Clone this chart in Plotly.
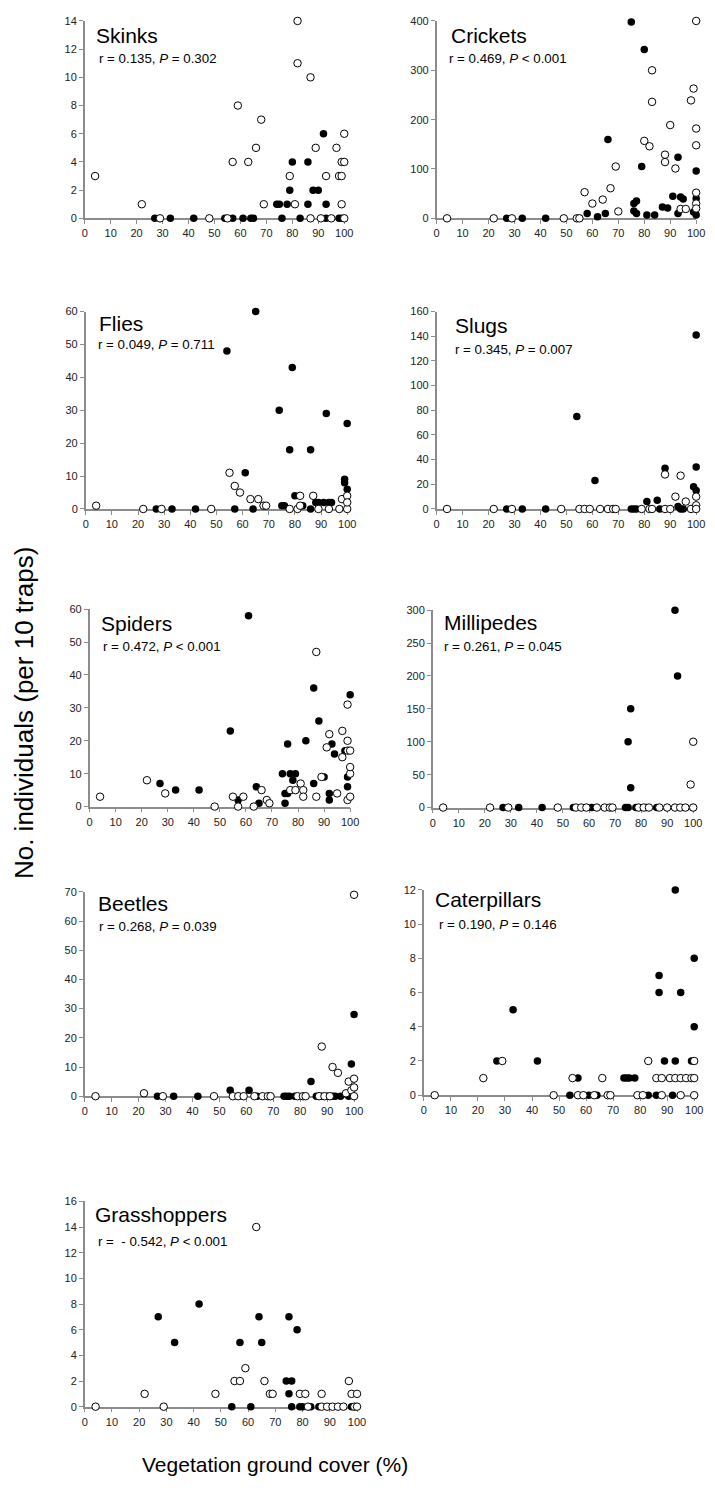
import plotly.graph_objects as go

OFF = 8  # browser body margin
W, H = 715 - OFF, 1497 - OFF
FONT = "Liberation Sans, Arial, sans-serif"

# ---------------- data ----------------
panel_names = ["Skinks", "Crickets", "Flies", "Slugs", "Spiders", "Millipedes",
               "Beetles", "Caterpillars", "Grasshoppers"]
panel_stats = [("0.135", "=", "0.302"), ("0.469", "<", "0.001"), ("0.049", "=", "0.711"),
               ("0.345", "=", "0.007"), ("0.472", "<", "0.001"), ("0.261", "=", "0.045"),
               ("0.268", "=", "0.039"), ("0.190", "=", "0.146"), ("\u00a0- 0.542", "<", "0.001")]
panel_ymax = [14, 400, 60, 160, 60, 300, 70, 12, 16]
panel_dtick = [2, 100, 10, 20, 10, 50, 10, 2, 2]
x_ticks = [0, 10, 20, 30, 40, 50, 60, 70, 80, 90, 100]

skinks_filled_x = [27, 33, 42, 54, 57, 61, 64, 65, 74, 75, 76, 78, 79, 80, 83, 86, 86, 88, 90, 92, 93, 93, 98, 99]
skinks_filled_y = [0, 0, 0, 0, 0, 0, 0, 0, 1, 1, 0, 1, 2, 4, 0, 4, 1, 2, 2, 6, 1, 0, 0, 0]
skinks_open_x = [4, 22, 29, 48, 55, 57, 59, 63, 66, 68, 69, 79, 81, 82, 82, 87, 87, 89, 91, 93, 95, 97, 98, 99, 99, 99, 100, 100, 100]
skinks_open_y = [3, 1, 0, 0, 0, 4, 8, 4, 5, 7, 1, 3, 1, 14, 11, 10, 0, 5, 0, 3, 0, 5, 3, 3, 1, 4, 4, 6, 0]

crickets_filled_x = [27, 33, 42, 55, 58, 62, 65, 66, 75, 76, 77, 76, 77, 79, 80, 81, 84, 87, 89, 91, 93, 93, 94, 95, 99, 100, 100, 100]
crickets_filled_y = [0, 0, 0, 0, 10, 3, 10, 160, 398, 30, 35, 15, 10, 105, 342, 7, 7, 23, 21, 45, 10, 124, 43, 39, 13, 7, 40, 96]
crickets_open_x = [4, 22, 29, 49, 54, 55, 57, 60, 64, 67, 69, 70, 80, 82, 83, 83, 88, 88, 90, 92, 94, 96, 98, 99, 100, 100, 100, 100, 100, 100]
crickets_open_y = [0, 0, 0, 0, 0, 0, 53, 30, 38, 61, 105, 14, 157, 146, 300, 236, 129, 114, 189, 101, 19, 19, 239, 263, 182, 400, 52, 148, 30, 20]

flies_filled_x = [27, 33, 42, 54, 57, 61, 64, 65, 74, 75, 76, 78, 79, 80, 83, 86, 86, 88, 89, 91, 92, 93, 94, 99, 99, 100, 100, 99]
flies_filled_y = [0, 0, 0, 48, 0, 11, 0, 60, 30, 1, 1, 18, 43, 4, 1, 18, 0, 2, 2, 2, 29, 2, 2, 9, 8, 26, 6, 3]
flies_open_x = [4, 22, 29, 48, 55, 57, 59, 63, 66, 68, 69, 78, 81, 82, 82, 87, 89, 93, 97, 98, 100, 100, 100]
flies_open_y = [1, 0, 0, 0, 11, 7, 5, 3, 3, 1, 1, 0, 0, 4, 1, 4, 0, 0, 0, 3, 4, 0, 2]

slugs_filled_x = [27, 33, 42, 54, 61, 75, 76, 77, 81, 85, 88, 86, 93, 94, 95, 99, 100, 100, 100]
slugs_filled_y = [0, 0, 0, 75, 23, 0, 0, 0, 6, 7, 33, 0, 2, 0, 0, 18, 34, 15, 141]
slugs_open_x = [4, 22, 29, 48, 55, 57, 59, 63, 66, 68, 69, 79, 82, 83, 88, 88, 90, 92, 94, 96, 98, 100, 100, 100]
slugs_open_y = [0, 0, 0, 0, 0, 0, 0, 0, 0, 0, 0, 0, 0, 0, 28, 0, 0, 10, 27, 6, 0, 10, 3, 0]

spiders_filled_x = [27, 33, 42, 54, 57, 61, 64, 65, 74, 75, 75, 76, 76, 77, 78, 79, 83, 86, 86, 88, 90, 92, 92, 93, 94, 98, 99, 99, 100]
spiders_filled_y = [7, 5, 5, 23, 2, 58, 6, 1, 10, 1, 4, 4, 19, 10, 8, 10, 20, 36, 7, 26, 9, 2, 4, 19, 16, 17, 9, 6, 34]
spiders_open_x = [4, 22, 29, 48, 55, 57, 59, 63, 66, 68, 69, 77, 79, 81, 82, 82, 87, 87, 89, 91, 92, 95, 97, 97, 99, 99, 99, 99, 100, 100, 100, 100]
spiders_open_y = [3, 8, 4, 0, 3, 0, 3, 0, 5, 2, 1, 5, 5, 7, 5, 3, 3, 47, 9, 18, 22, 4, 15, 23, 2, 20, 31, 17, 3, 10, 12, 17]

millipedes_filled_x = [27, 33, 42, 54, 61, 74, 75, 75, 76, 76, 78, 82, 86, 93, 94, 100]
millipedes_filled_y = [0, 0, 0, 0, 0, 0, 0, 100, 150, 30, 0, 0, 0, 300, 200, 0]
millipedes_open_x = [4, 22, 29, 48, 55, 57, 59, 63, 66, 68, 69, 79, 81, 83, 87, 90, 93, 95, 97, 99, 100, 100]
millipedes_open_y = [0, 0, 0, 0, 0, 0, 0, 0, 0, 0, 0, 0, 0, 0, 0, 0, 0, 0, 0, 35, 100, 0]

beetles_filled_x = [27, 33, 42, 54, 57, 61, 64, 74, 75, 76, 78, 84, 86, 88, 90, 92, 93, 95, 98, 99, 100, 100]
beetles_filled_y = [0, 0, 0, 2, 0, 2, 0, 0, 0, 0, 0, 5, 0, 0, 0, 0, 0, 0, 0, 11, 28, 3]
beetles_open_x = [4, 22, 29, 48, 55, 57, 59, 63, 66, 68, 69, 79, 81, 82, 87, 88, 89, 91, 92, 94, 97, 98, 99, 100, 100, 100, 100]
beetles_open_y = [0, 1, 0, 0, 0, 0, 0, 0, 0, 0, 0, 0, 0, 0, 0, 17, 0, 0, 10, 8, 1, 5, 2, 69, 6, 3, 0]

caterpillars_filled_x = [27, 33, 42, 57, 74, 75, 76, 78, 87, 87, 89, 93, 93, 95, 99, 100, 100, 54, 61, 64, 83, 86, 92]
caterpillars_filled_y = [2, 5, 2, 1, 1, 1, 1, 1, 7, 6, 2, 12, 2, 6, 2, 8, 4, 0, 0, 0, 0, 0, 0]
caterpillars_open_x = [4, 22, 29, 48, 55, 57, 59, 63, 66, 68, 69, 79, 81, 83, 86, 88, 91, 93, 95, 97, 99, 100, 100, 100, 88, 95]
caterpillars_open_y = [0, 1, 2, 0, 1, 0, 0, 0, 1, 0, 0, 0, 0, 2, 1, 1, 1, 1, 1, 1, 1, 2, 1, 0, 0, 0]

grasshoppers_filled_x = [27, 33, 42, 54, 57, 61, 64, 65, 74, 75, 75, 76, 76, 78, 79, 80, 83, 86, 98]
grasshoppers_filled_y = [7, 5, 8, 0, 5, 0, 7, 5, 2, 7, 1, 2, 0, 6, 0, 0, 0, 0, 0]
grasshoppers_open_x = [4, 22, 29, 48, 55, 57, 59, 63, 66, 68, 69, 79, 81, 82, 87, 87, 89, 91, 93, 95, 97, 98, 100, 99, 100]
grasshoppers_open_y = [0, 1, 0, 1, 2, 2, 3, 14, 2, 1, 1, 1, 1, 0, 1, 0, 0, 0, 0, 0, 2, 1, 1, 0, 0]

series = [
    (skinks_filled_x, skinks_filled_y, skinks_open_x, skinks_open_y),
    (crickets_filled_x, crickets_filled_y, crickets_open_x, crickets_open_y),
    (flies_filled_x, flies_filled_y, flies_open_x, flies_open_y),
    (slugs_filled_x, slugs_filled_y, slugs_open_x, slugs_open_y),
    (spiders_filled_x, spiders_filled_y, spiders_open_x, spiders_open_y),
    (millipedes_filled_x, millipedes_filled_y, millipedes_open_x, millipedes_open_y),
    (beetles_filled_x, beetles_filled_y, beetles_open_x, beetles_open_y),
    (caterpillars_filled_x, caterpillars_filled_y, caterpillars_open_x, caterpillars_open_y),
    (grasshoppers_filled_x, grasshoppers_filled_y, grasshoppers_open_x, grasshoppers_open_y),
]

# ---------------- layout (page pixel boxes: left, right, top, bottom) ----------------
boxes = [
    (83, 347, 15, 214), (441, 705, 15, 214),
    (84, 350, 308, 507), (441, 705, 308, 507),
    (88, 353, 608, 807), (437, 702, 609, 808),
    (83, 357, 893, 1099), (428, 703, 891, 1098),
    (83, 360, 1205, 1412),
]
title_pos = [(92, 30), (454, 30), (95, 320), (458, 322), (98, 622), (446, 621),
             (94, 905), (437, 901), (91, 1218)]
stats_pos = [(95, 53), (452, 53), (94, 341), (458, 346), (100, 646), (446, 646),
             (95, 928), (441, 926), (94, 1245)]


def px(x):
    return (x - OFF) / W


def py(y):
    return 1 - (y - OFF) / H


AX = "#8c8c8c"
fig = go.Figure()
layout = dict(width=W, height=H, autosize=False, margin=dict(l=0, r=0, t=0, b=0, pad=0),
              paper_bgcolor="white", plot_bgcolor="white", showlegend=False,
              font=dict(family=FONT, color="#222"))
annotations = []

for i, (fx, fy, ox, oy) in enumerate(series):
    n = i + 1
    xa = "x" if n == 1 else f"x{n}"
    ya = "y" if n == 1 else f"y{n}"
    l, r, t, b = boxes[i]
    fig.add_trace(go.Scatter(x=fx, y=fy, mode="markers", xaxis=xa, yaxis=ya,
                             cliponaxis=False,
                             marker=dict(size=7.5, color="black", line=dict(width=0))))
    fig.add_trace(go.Scatter(x=ox, y=oy, mode="markers", xaxis=xa, yaxis=ya,
                             cliponaxis=False,
                             marker=dict(size=7.5, color="white", line=dict(width=1, color="black"))))
    common = dict(showgrid=False, zeroline=False, showline=True, linecolor=AX, linewidth=1.5,
                  ticks="outside", ticklen=4, tickcolor=AX, tickwidth=1,
                  tickfont=dict(size=11, family=FONT, color="#222"), layer="below traces",
                  fixedrange=True)
    layout["xaxis" if n == 1 else f"xaxis{n}"] = dict(
        common, domain=[px(l), min(px(r), 1)], anchor=ya, range=[0, 100], tickvals=x_ticks)
    layout["yaxis" if n == 1 else f"yaxis{n}"] = dict(
        common, domain=[py(b), py(t)], anchor=xa, range=[0, panel_ymax[i]],
        dtick=panel_dtick[i], tick0=0)
    tx, ty = title_pos[i]
    annotations.append(dict(text=panel_names[i], x=px(tx), y=py(ty), xref="paper", yref="paper",
                            xanchor="left", yanchor="middle", showarrow=False,
                            font=dict(size=21, family=FONT, color="black")))
    rv, op, pv = panel_stats[i]
    sx, sy = stats_pos[i]
    annotations.append(dict(text=f"r = {rv}, <i>P</i> {op} {pv}", x=px(sx), y=py(sy),
                            xref="paper", yref="paper", xanchor="left", yanchor="middle",
                            showarrow=False, font=dict(size=13.3, family=FONT, color="black")))

annotations.append(dict(text="No. individuals (per 10 traps)", x=px(22), y=py(713),
                        xref="paper", yref="paper", xanchor="center", yanchor="middle",
                        textangle=-90, showarrow=False,
                        font=dict(size=26, family=FONT, color="black")))
annotations.append(dict(text="Vegetation ground cover (%)", x=px(277), y=py(1470),
                        xref="paper", yref="paper", xanchor="center", yanchor="middle",
                        showarrow=False, font=dict(size=21, family=FONT, color="black")))
layout["annotations"] = annotations
fig.update_layout(**layout)
fig.write_html("out.html")
